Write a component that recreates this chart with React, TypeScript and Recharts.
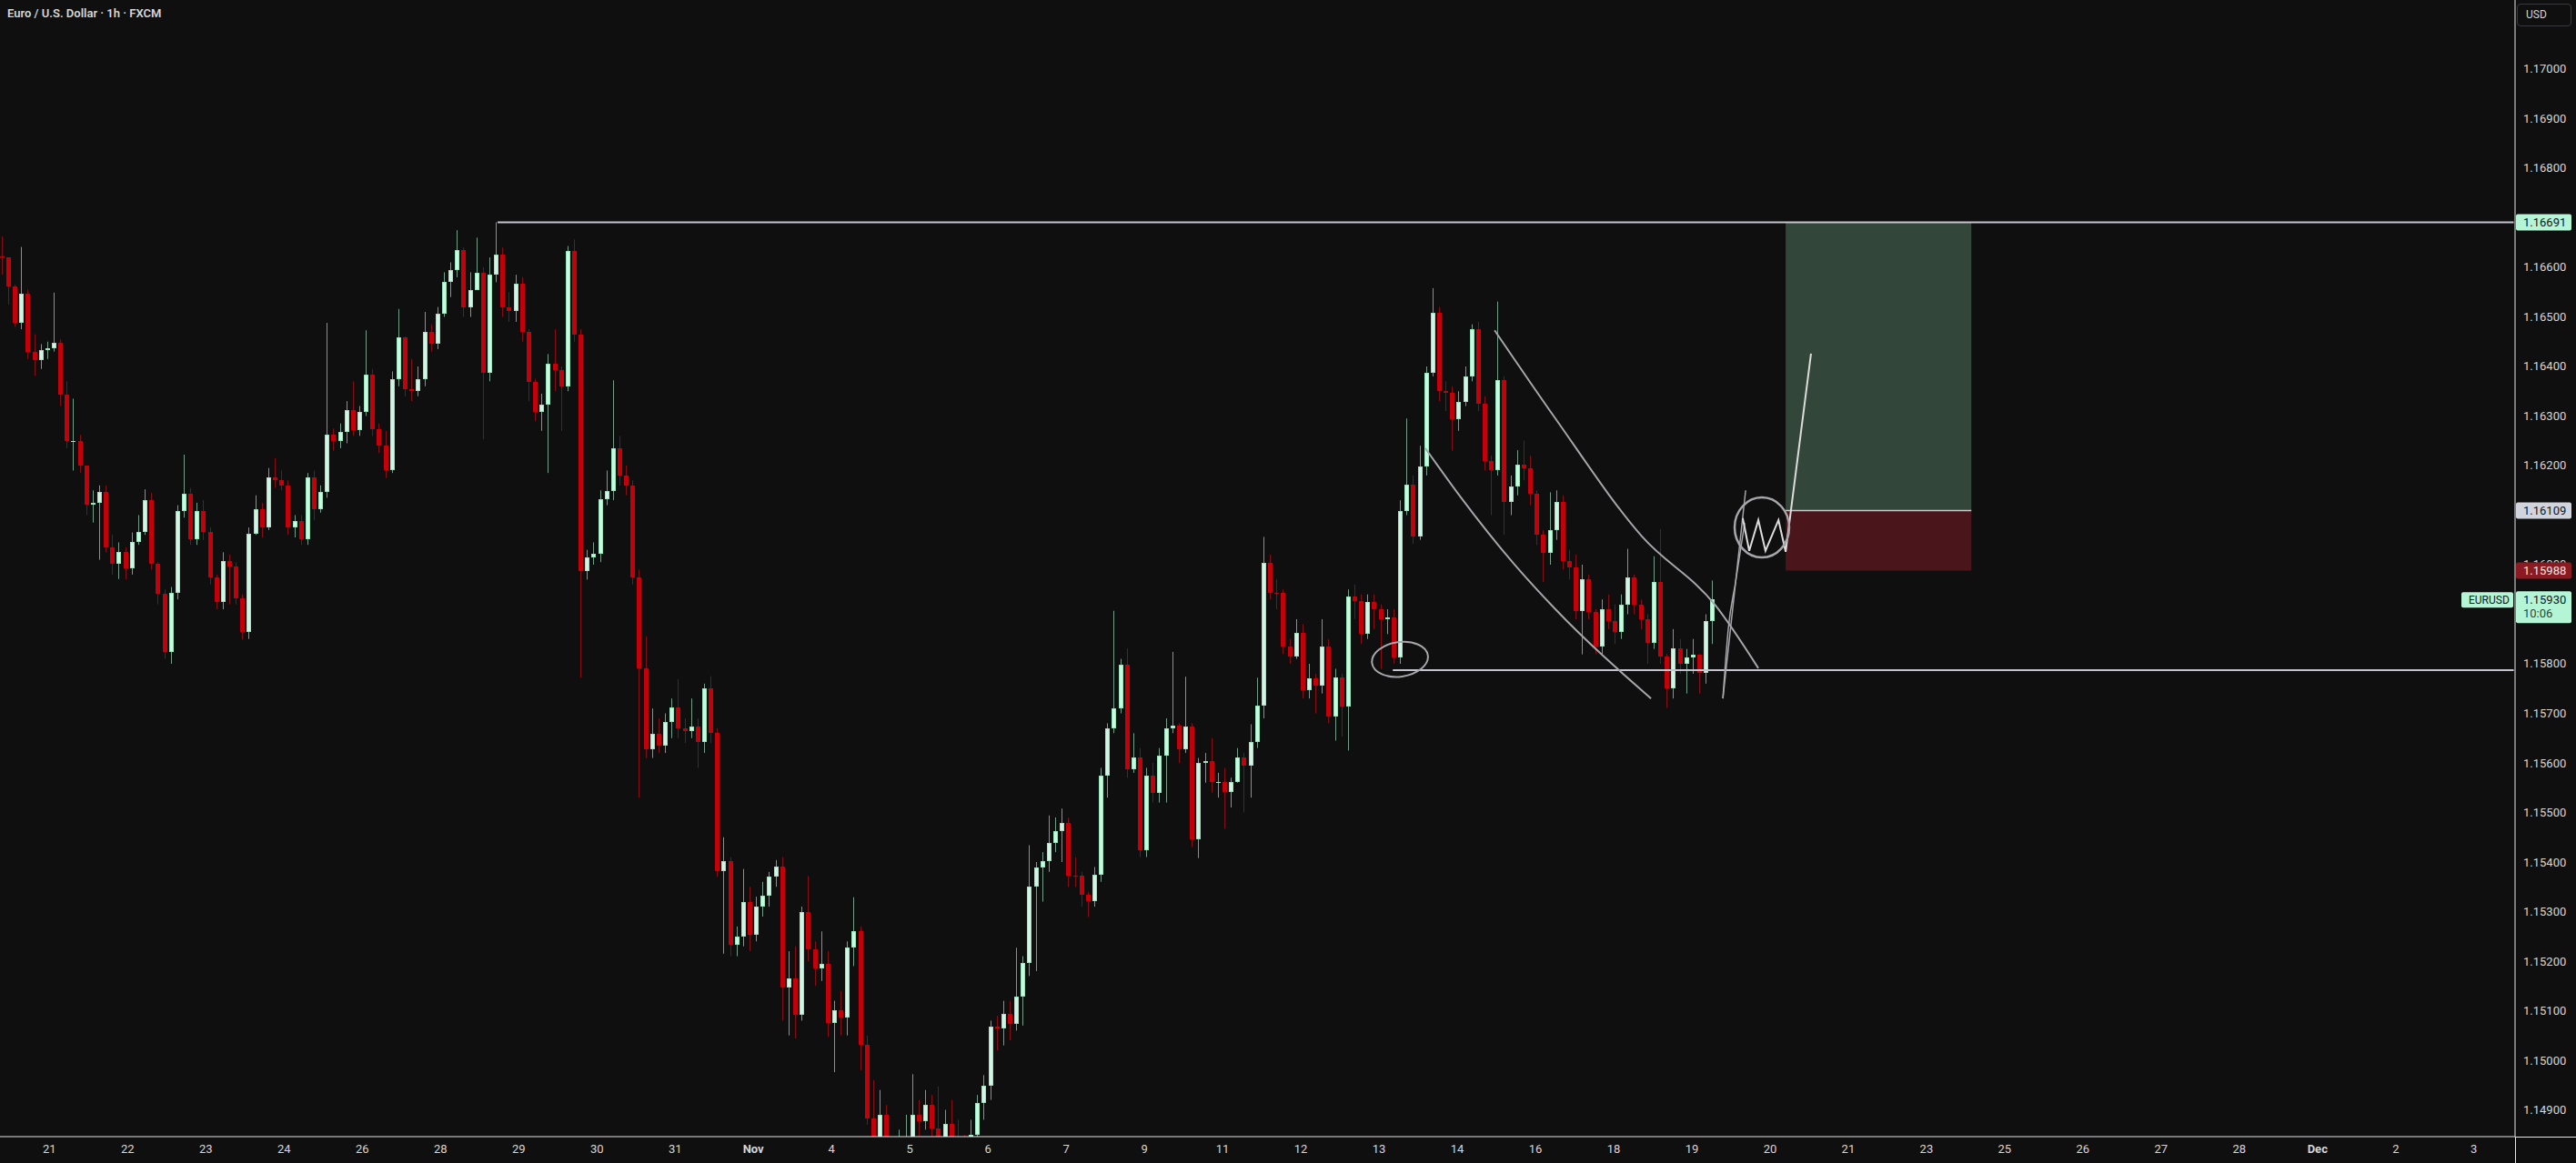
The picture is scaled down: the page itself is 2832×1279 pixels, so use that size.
import React from 'react';
import { ComposedChart, Bar, Line, XAxis, YAxis, ReferenceLine, ReferenceArea, ReferenceDot } from 'recharts';

// EURUSD, 2h bars. x unit = hours since left edge
const dayLabels = ['21', '22', '23', '24', '26', '28', '29', '30', '31', 'Nov', '4', '5', '6', '7', '9', '11', '12', '13', '14', '16', '18', '19', '20', '21', '23', '25', '26', '27', '28', 'Dec', '2', '3'];
const priceTicks = [1.149, 1.15, 1.151, 1.152, 1.153, 1.154, 1.155, 1.156, 1.157, 1.158, 1.16, 1.162, 1.163, 1.164, 1.165, 1.166, 1.168, 1.169, 1.17];

const firstOpen = 1.16622;
const closes = [
  1.1662, 1.16561, 1.16488, 1.16546, 1.1643, 1.16412, 1.16433, 1.16436, 1.16448, 1.16344,
  1.16249, 1.16249, 1.162, 1.16121, 1.16124, 1.16146, 1.16035, 1.16002, 1.16026, 1.15993,
  1.16045, 1.16066, 1.1613, 1.16002, 1.15941, 1.15824, 1.15944, 1.16109, 1.16143, 1.16051,
  1.16109, 1.16066, 1.15974, 1.15925, 1.16008, 1.15996, 1.15932, 1.15864, 1.16063, 1.16112,
  1.16075, 1.16176, 1.1617, 1.1616, 1.16075, 1.16088, 1.16051, 1.16176, 1.16112, 1.16146,
  1.16262, 1.16249, 1.16268, 1.16311, 1.16271, 1.16308, 1.16384, 1.16274, 1.1624, 1.16191,
  1.16375, 1.16458, 1.16354, 1.16351, 1.16375, 1.1647, 1.16445, 1.16506, 1.16571, 1.16595,
  1.16635, 1.16519, 1.16555, 1.16589, 1.16387, 1.16586, 1.16626, 1.16519, 1.16512, 1.16567,
  1.1647, 1.16369, 1.16308, 1.16323, 1.16405, 1.16392, 1.1636, 1.16633, 1.16465, 1.15988,
  1.16014, 1.16022, 1.16133, 1.16149, 1.16235, 1.1618, 1.16159, 1.15974, 1.1579, 1.15627,
  1.15659, 1.15635, 1.15682, 1.15712, 1.1567, 1.15665, 1.15674, 1.15643, 1.15751, 1.15661,
  1.15381, 1.15401, 1.15233, 1.15249, 1.1532, 1.15253, 1.1531, 1.15333, 1.1537, 1.1539,
  1.15146, 1.15165, 1.15092, 1.153, 1.15224, 1.15186, 1.15194, 1.15076, 1.15101, 1.15086,
  1.15227, 1.15261, 1.15031, 1.14883, 1.1484, 1.1489, 1.148, 1.1476, 1.1479, 1.1482,
  1.1489, 1.14878, 1.1491, 1.14862, 1.1481, 1.14872, 1.1482, 1.1481, 1.1479, 1.1485,
  1.14914, 1.14949, 1.15067, 1.15064, 1.15094, 1.15074, 1.15129, 1.15196, 1.1535, 1.15389,
  1.15402, 1.15438, 1.15463, 1.15479, 1.15373, 1.15372, 1.15334, 1.15322, 1.15375, 1.15575,
  1.1567, 1.15711, 1.15798, 1.15588, 1.15611, 1.15424, 1.15575, 1.15539, 1.15615, 1.1567,
  1.15675, 1.15628, 1.15674, 1.15446, 1.156, 1.15604, 1.15561, 1.15562, 1.15541, 1.15561,
  1.15611, 1.15594, 1.15643, 1.15715, 1.16004, 1.15944, 1.15943, 1.15835, 1.15815, 1.15862,
  1.15747, 1.1577, 1.15756, 1.15834, 1.15694, 1.15773, 1.15713, 1.15936, 1.15926, 1.15861,
  1.15925, 1.1591, 1.15889, 1.15893, 1.15812, 1.16109, 1.16161, 1.16057, 1.16199, 1.16387,
  1.16508, 1.1635, 1.16347, 1.16294, 1.16328, 1.16379, 1.16476, 1.16325, 1.1621, 1.16191,
  1.16372, 1.16126, 1.16158, 1.16201, 1.16195, 1.16143, 1.1606, 1.16023, 1.16069, 1.16127,
  1.16008, 1.15995, 1.15907, 1.15971, 1.15904, 1.15834, 1.1591, 1.15886, 1.15864, 1.15919,
  1.15974, 1.15919, 1.15889, 1.15843, 1.15965, 1.15815, 1.15751, 1.15831, 1.158, 1.15812,
  1.15818, 1.15781, 1.15886, 1.1593,
];
const highs = [
  1.16662, 1.1662, 1.16565, 1.16641, 1.16555, 1.16465, 1.16445, 1.1645, 1.16549, 1.16455,
  1.1637, 1.16335, 1.16262, 1.162, 1.1615, 1.1616, 1.1616, 1.1606, 1.16045, 1.16035,
  1.16065, 1.161, 1.16152, 1.16145, 1.16005, 1.1595, 1.15955, 1.1612, 1.16222, 1.16155,
  1.16125, 1.1613, 1.16075, 1.1598, 1.16025, 1.1602, 1.16005, 1.1594, 1.16075, 1.1614,
  1.16125, 1.16195, 1.16215, 1.1619, 1.1617, 1.161, 1.161, 1.16185, 1.1619, 1.1616,
  1.16488, 1.16275, 1.16285, 1.1633, 1.1637, 1.1632, 1.16473, 1.16395, 1.16285, 1.1627,
  1.1639, 1.16516, 1.1646, 1.16415, 1.164, 1.1651, 1.16485, 1.1652, 1.1659, 1.1661,
  1.16675, 1.1664, 1.1659, 1.1666, 1.166, 1.1662, 1.16691, 1.1664, 1.1655, 1.16585,
  1.1658, 1.16475, 1.16375, 1.16345, 1.16425, 1.16475, 1.164, 1.16643, 1.16656, 1.16475,
  1.1603, 1.16045, 1.1615, 1.1619, 1.16372, 1.1626, 1.162, 1.1617, 1.1599, 1.15855,
  1.1571, 1.1569, 1.157, 1.1573, 1.15769, 1.1569, 1.1573, 1.1569, 1.1576, 1.15775,
  1.1567, 1.1545, 1.1541, 1.1527, 1.15386, 1.1535, 1.1533, 1.1536, 1.1538, 1.15404,
  1.1541, 1.1522, 1.1523, 1.1531, 1.15372, 1.1524, 1.1526, 1.1522, 1.1512, 1.1514,
  1.1524, 1.15329, 1.1527, 1.1505, 1.1496, 1.1494, 1.1491, 1.1483, 1.1486, 1.1489,
  1.14972, 1.1492, 1.1494, 1.1493, 1.14947, 1.149, 1.1492, 1.1488, 1.1485, 1.1488,
  1.1493, 1.1497, 1.1508, 1.1509, 1.1512, 1.1512, 1.15227, 1.1521, 1.15434, 1.154,
  1.1542, 1.15494, 1.1549, 1.15508, 1.1549, 1.1541, 1.1538, 1.1534, 1.1539, 1.1559,
  1.1568, 1.15907, 1.1581, 1.15831, 1.1566, 1.1563, 1.1559, 1.156, 1.1563, 1.1569,
  1.15824, 1.1568, 1.15774, 1.1568, 1.1561, 1.1562, 1.1565, 1.1558, 1.1559, 1.1557,
  1.1563, 1.1562, 1.15678, 1.15772, 1.16056, 1.1602, 1.1597, 1.1595, 1.1585, 1.1589,
  1.1588, 1.158, 1.1578, 1.1589, 1.1585, 1.1579, 1.1578, 1.1595, 1.1596, 1.1594,
  1.1594, 1.1594, 1.1592, 1.1591, 1.1591, 1.1613, 1.16295, 1.1618, 1.1624, 1.164,
  1.16558, 1.1652, 1.1637, 1.1636, 1.1635, 1.164, 1.16485, 1.1649, 1.1634, 1.1622,
  1.16531, 1.1638, 1.1618, 1.16231, 1.1625, 1.1622, 1.1615, 1.1607, 1.16146, 1.1615,
  1.1614, 1.1603, 1.1602, 1.16, 1.1598, 1.1591, 1.1593, 1.1594, 1.1592, 1.1594,
  1.16032, 1.1598, 1.1593, 1.159, 1.16017, 1.16072, 1.1582, 1.1587, 1.1585, 1.1583,
  1.1585, 1.1582, 1.159, 1.15968,
];
const lows = [
  1.16585, 1.16525, 1.1648, 1.16475, 1.16415, 1.16381, 1.16395, 1.16415, 1.1643, 1.1632,
  1.16235, 1.1619, 1.16185, 1.161, 1.16085, 1.1601, 1.16025, 1.1598, 1.15971, 1.1597,
  1.1598, 1.1604, 1.1606, 1.1599, 1.1592, 1.1581, 1.158, 1.1593, 1.16095, 1.1604,
  1.1604, 1.1605, 1.1596, 1.1591, 1.1591, 1.1592, 1.1592, 1.15849, 1.1585, 1.1606,
  1.16055, 1.1607, 1.16155, 1.1615, 1.1606, 1.16055, 1.1604, 1.1604, 1.1609, 1.16105,
  1.16135, 1.1623, 1.16235, 1.16245, 1.1626, 1.1626, 1.163, 1.1626, 1.16225, 1.16175,
  1.16185, 1.1636, 1.1634, 1.1633, 1.1634, 1.1636, 1.1643, 1.16435, 1.165, 1.1654,
  1.1658, 1.165, 1.165, 1.16555, 1.16253, 1.1637, 1.1657, 1.165, 1.1649, 1.1649,
  1.1645, 1.1633, 1.1629, 1.1627, 1.16185, 1.1635, 1.1627, 1.1635, 1.1645, 1.15772,
  1.1597, 1.16, 1.16005, 1.1612, 1.1613, 1.1616, 1.1614, 1.1596, 1.1553, 1.1561,
  1.1561, 1.1562, 1.1562, 1.1565, 1.1565, 1.1564, 1.1565, 1.1559, 1.1562, 1.1564,
  1.1537, 1.15215, 1.1521, 1.1521, 1.1523, 1.1522, 1.1524, 1.1529, 1.1531, 1.1535,
  1.1508, 1.1505, 1.15044, 1.1508, 1.152, 1.1515, 1.1516, 1.15047, 1.14976, 1.1505,
  1.1505, 1.1519, 1.1498, 1.1487, 1.1478, 1.1477, 1.1474, 1.1468, 1.1469, 1.1473,
  1.1478, 1.1484, 1.1486, 1.1483, 1.1474, 1.1476, 1.1475, 1.1474, 1.1471, 1.1474,
  1.1482, 1.1488, 1.1492, 1.1502, 1.1503, 1.1504, 1.1506, 1.1507, 1.1517, 1.1518,
  1.1532, 1.1538, 1.1542, 1.154, 1.1535, 1.1535, 1.1531, 1.15289, 1.1531, 1.1536,
  1.1553, 1.1566, 1.157, 1.1557, 1.1558, 1.1541, 1.1541, 1.1552, 1.1552, 1.1552,
  1.1566, 1.156, 1.1562, 1.1543, 1.15408, 1.1556, 1.1554, 1.1553, 1.15467, 1.1551,
  1.1556, 1.155, 1.1553, 1.1563, 1.1569, 1.1593, 1.1591, 1.1582, 1.158, 1.1581,
  1.1573, 1.1573, 1.157, 1.1574, 1.1568, 1.15645, 1.15653, 1.15625, 1.1589, 1.1584,
  1.1585, 1.1587, 1.1579, 1.1586, 1.158, 1.158, 1.161, 1.16042, 1.1605, 1.1618,
  1.1638, 1.1633, 1.1631, 1.1623, 1.1627, 1.1632, 1.1637, 1.1631, 1.1619, 1.161,
  1.1618, 1.1606, 1.161, 1.1614, 1.1617, 1.1612, 1.1604, 1.15965, 1.16, 1.1605,
  1.1599, 1.1597, 1.1589, 1.15819, 1.1589, 1.1582, 1.1582, 1.1587, 1.1584, 1.1585,
  1.159, 1.159, 1.1587, 1.158, 1.1583, 1.158, 1.15711, 1.1573, 1.1578, 1.1574,
  1.1578, 1.1574, 1.1576, 1.1584,
];

// hand drawings (hour, price)
const upperArc = [
  { h: 459.6, p: 1.16473 }, { h: 478.3, p: 1.16295 }, { h: 504.9, p: 1.16057 },
  { h: 527.6, p: 1.15917 }, { h: 540.7, p: 1.15791 },
];
const lowerArc = [
  { h: 438.3, p: 1.16235 }, { h: 449.2, p: 1.16136 }, { h: 465.5, p: 1.16002 },
  { h: 478.3, p: 1.1591 }, { h: 507.7, p: 1.1573 },
];
const strokeA = [{ h: 529.8, p: 1.1573 }, { h: 536.8, p: 1.1615 }];
const strokeB = [
  { h: 529.8, p: 1.1573 }, { h: 531.5, p: 1.15873 }, { h: 533.7, p: 1.15965 }, { h: 536.5, p: 1.16084 },
];
const wPath = [
  { h: 535.9, p: 1.16094 }, { h: 537.9, p: 1.16028 }, { h: 540.7, p: 1.1609 }, { h: 542.9, p: 1.16028 },
  { h: 546.9, p: 1.1609 }, { h: 549.1, p: 1.16026 }, { h: 556.9, p: 1.16426 },
];

const TARGET = 1.16691;
const ENTRY = 1.16109;
const STOP = 1.15988;
const LAST = 1.1593;
const SUPPORT = 1.15787;

const X_MAX = 773.4;
const Y_MIN = 1.148459;
const Y_MAX = 1.171394;
const FONT = "Roboto, 'Liberation Sans', sans-serif";
const BG = '#0f0f0f';
const MINT = '#b3f5d5';

const candles = closes.map((c, i) => {
  const o = i === 0 ? firstOpen : closes[i - 1];
  const hi = Math.max(highs[i], o, c);
  const lo = Math.min(lows[i], o, c);
  return { h: i * 2 + 0.5, open: o, close: c, high: hi, low: lo, range: [lo, hi] };
});

const dayTicks = dayLabels.map((_, i) => 15.2 + 24.05 * i);
// tags go last so they paint over the plain price labels
const axisTicks = [...priceTicks, TARGET, ENTRY, STOP, LAST];

const Candle = (props: any) => {
  const { x, y, width, height, payload } = props;
  if (!payload || x == null) return null;
  let top = y;
  let hgt = height;
  if (hgt < 0) {
    top = y + hgt;
    hgt = -hgt;
  }
  const { open, close, high, low } = payload;
  const span = high - low || 1e-6;
  const toY = (v: number) => top + ((high - v) / span) * hgt;
  const up = close >= open;
  const c = Math.round(x + width / 2);
  const bTop = Math.round(toY(Math.max(open, close)));
  const bBot = Math.round(toY(Math.min(open, close)));
  const bh = Math.max(1, bBot - bTop);
  return (
    <g>
      <rect x={c} y={top} width={1} height={hgt} fill={up ? '#6f9f88' : '#8a0c12'} />
      {up ? (
        <>
          <rect x={c - 2} y={bTop} width={5} height={bh} fill="#95e6bd" />
          {bh > 2 && <rect x={c - 1} y={bTop + 1} width={3} height={bh - 2} fill="#cdf7e2" />}
        </>
      ) : (
        <rect x={c - 2} y={bTop} width={5} height={bh} fill="#c4000b" />
      )}
    </g>
  );
};

const DayTick = (props: any) => {
  const { x, y, payload } = props;
  const idx = Math.round((payload.value - 15.2) / 24.05);
  const label = dayLabels[idx];
  const month = label === 'Nov' || label === 'Dec';
  return (
    <text x={x} y={y + 10} textAnchor="middle" fill="#d6d6d6" fontSize={13} fontFamily={FONT} fontWeight={month ? 700 : 400}>
      {label}
    </text>
  );
};

const Tag = ({ x, y, text, bg, fg }: any) => (
  <g>
    <rect x={x + 1} y={y - 9} width={61} height={18} rx={2} fill={bg} />
    <text x={x + 9} y={y + 4.5} fill={fg} fontSize={13} fontFamily={FONT}>{text}</text>
  </g>
);

const PriceTick = (props: any) => {
  const { x, y, payload } = props;
  const v = payload.value;
  if (v === TARGET) return <Tag x={x} y={y} text={TARGET.toFixed(5)} bg={MINT} fg="#131722" />;
  if (v === ENTRY) return <Tag x={x} y={y} text={ENTRY.toFixed(5)} bg="#d1d4dc" fg="#131722" />;
  if (v === STOP) return <Tag x={x} y={y} text={STOP.toFixed(5)} bg="#8c1a23" fg="#f0e6e6" />;
  if (v === LAST) {
    return (
      <g>
        <rect x={x - 59} y={y - 8} width={57} height={17} rx={2} fill={MINT} />
        <text x={x - 51} y={y + 5} fill="#131722" fontSize={12} fontFamily={FONT}>EURUSD</text>
        <rect x={x + 1} y={y - 9} width={61} height={35} rx={2} fill={MINT} />
        <text x={x + 9} y={y + 5} fill="#131722" fontSize={13} fontFamily={FONT}>{LAST.toFixed(5)}</text>
        <text x={x + 9} y={y + 20} fill="#2a4a3a" fontSize={13} fontFamily={FONT}>10:06</text>
      </g>
    );
  }
  return (
    <text x={x + 9} y={y + 4.5} fill="#d6d6d6" fontSize={13} fontFamily={FONT}>{v.toFixed(5)}</text>
  );
};

const lassoShape = (p: any) => (
  <ellipse cx={p.cx} cy={p.cy} rx={31} ry={19} transform={`rotate(-8 ${p.cx} ${p.cy})`} fill="none" stroke="#a6a6ab" strokeWidth={2} />
);
const circleShape = (p: any) => (
  <ellipse cx={p.cx} cy={p.cy} rx={30} ry={33} fill="none" stroke="#a6a6ab" strokeWidth={2.5} />
);

export default function App() {
  return (
    <div style={{ position: 'absolute', left: 0, top: 0, width: 2832, height: 1279, background: BG, overflow: 'hidden' }}>
      <ComposedChart width={2832} height={1279} data={candles} margin={{ top: 0, right: 0, bottom: 0, left: 0 }}>
        <XAxis
          dataKey="h"
          type="number"
          domain={[0, X_MAX]}
          allowDataOverflow
          ticks={dayTicks}
          tick={<DayTick />}
          tickLine={false}
          axisLine={{ stroke: '#e6e6e6' }}
          height={29}
          interval={0}
        />
        <YAxis
          orientation="right"
          type="number"
          domain={[Y_MIN, Y_MAX]}
          allowDataOverflow
          ticks={axisTicks}
          tick={<PriceTick />}
          tickLine={false}
          tickSize={0}
          tickMargin={0}
          axisLine={{ stroke: '#e6e6e6' }}
          width={67}
          interval={0}
        />
        <ReferenceArea x1={549.1} x2={606.2} y1={ENTRY} y2={TARGET} fill="#33463a" fillOpacity={1} stroke="none" />
        <ReferenceArea x1={549.1} x2={606.2} y1={STOP} y2={ENTRY} fill="#4a161c" fillOpacity={1} stroke="none" />
        <Bar dataKey="range" barSize={5} shape={<Candle />} isAnimationActive={false} />
        <ReferenceLine segment={[{ x: 153, y: TARGET }, { x: 773, y: TARGET }]} stroke="#c4c4cc" strokeWidth={2} />
        <ReferenceLine segment={[{ x: 428.3, y: SUPPORT }, { x: 773, y: SUPPORT }]} stroke="#c4c4cc" strokeWidth={2} />
        <ReferenceLine segment={[{ x: 549.1, y: ENTRY }, { x: 606.2, y: ENTRY }]} stroke="#c8c8cc" strokeWidth={1.5} />
        <Line data={upperArc} dataKey="p" type="monotone" stroke="#a6a6ab" strokeWidth={2} dot={false} activeDot={false} isAnimationActive={false} />
        <Line data={lowerArc} dataKey="p" type="monotone" stroke="#a6a6ab" strokeWidth={2} dot={false} activeDot={false} isAnimationActive={false} />
        <Line data={strokeA} dataKey="p" type="linear" stroke="#a6a6ab" strokeWidth={1.5} dot={false} activeDot={false} isAnimationActive={false} />
        <Line data={strokeB} dataKey="p" type="monotone" stroke="#a6a6ab" strokeWidth={1.5} dot={false} activeDot={false} isAnimationActive={false} />
        <Line data={wPath} dataKey="p" type="linear" stroke="#dcdcdc" strokeWidth={2} dot={false} activeDot={false} isAnimationActive={false} />
        <ReferenceDot x={430.5} y={1.15809} r={1} shape={lassoShape} />
        <ReferenceDot x={541.8} y={1.16075} r={1} shape={circleShape} />
      </ComposedChart>
      <div style={{ position: 'absolute', left: 2765, top: 1250, width: 67, height: 1, background: '#e6e6e6' }} />
      <div style={{ position: 'absolute', left: 2765, top: 1250, width: 1, height: 29, background: '#e6e6e6' }} />
      <div style={{ position: 'absolute', left: 8, top: 7, color: '#d6d6d6', fontFamily: FONT, fontSize: 13, fontWeight: 600 }}>
        Euro / U.S. Dollar · 1h · FXCM
      </div>
      <div style={{ position: 'absolute', left: 2767, top: 4, width: 49, height: 23, border: '1px solid #3a3a3e', borderRadius: 4, color: '#d6d6d6', fontFamily: FONT, fontSize: 12, lineHeight: '23px', paddingLeft: 9 }}>
        USD
      </div>
    </div>
  );
}
